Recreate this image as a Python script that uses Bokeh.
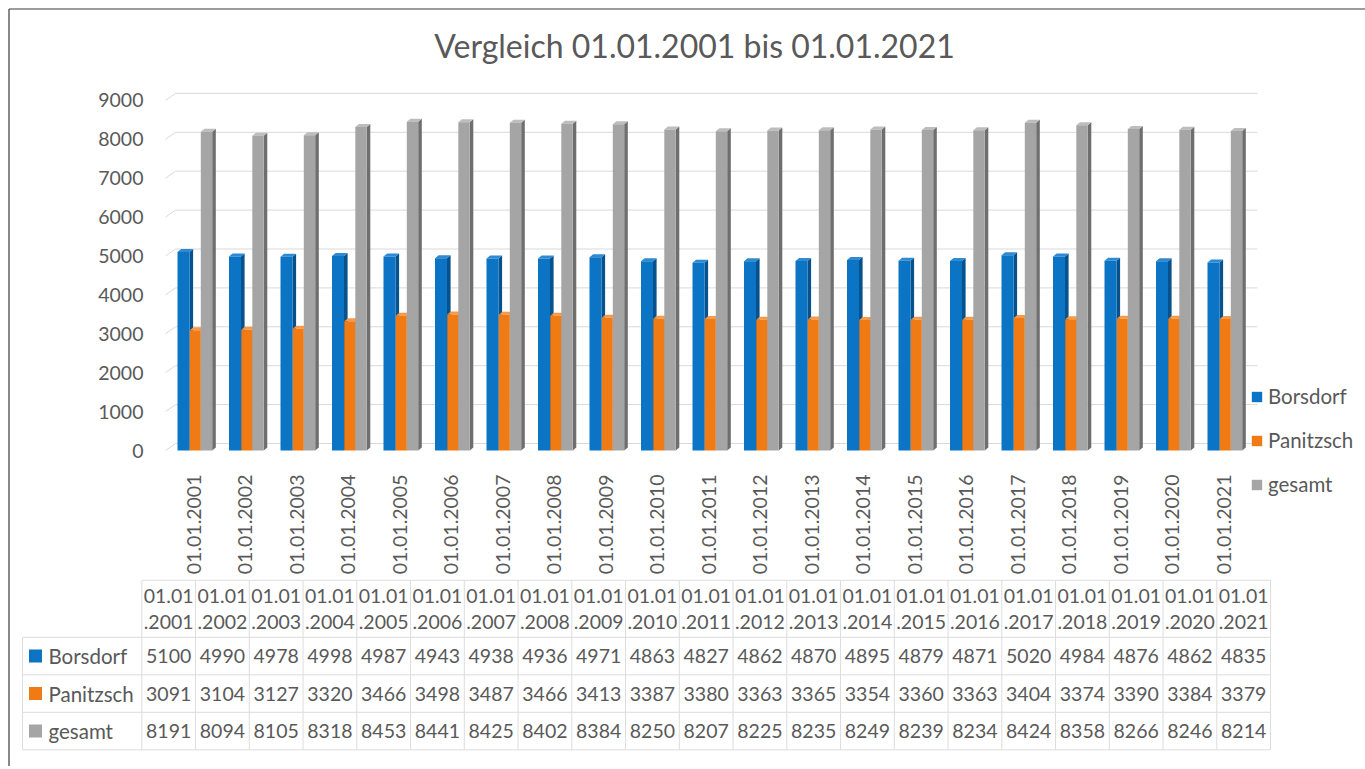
import math
from bokeh.plotting import figure
from bokeh.models import (Range1d, LinearAxis, FixedTicker, Legend, LegendItem,
                          ColumnDataSource)
from bokeh.embed import file_html
from bokeh.resources import INLINE
from bokeh.core.properties import value

# ---------------- data ----------------
DATES = ["01.01.2001", "01.01.2002", "01.01.2003", "01.01.2004", "01.01.2005",
         "01.01.2006", "01.01.2007", "01.01.2008", "01.01.2009", "01.01.2010",
         "01.01.2011", "01.01.2012", "01.01.2013", "01.01.2014", "01.01.2015",
         "01.01.2016", "01.01.2017", "01.01.2018", "01.01.2019", "01.01.2020",
         "01.01.2021"]
BORSDORF = [5100, 4990, 4978, 4998, 4987, 4943, 4938, 4936, 4971, 4863, 4827,
            4862, 4870, 4895, 4879, 4871, 5020, 4984, 4876, 4862, 4835]
PANITZSCH = [3091, 3104, 3127, 3320, 3466, 3498, 3487, 3466, 3413, 3387, 3380,
             3363, 3365, 3354, 3360, 3363, 3404, 3374, 3390, 3384, 3379]
GESAMT = [8191, 8094, 8105, 8318, 8453, 8441, 8425, 8402, 8384, 8250, 8207,
          8225, 8235, 8249, 8239, 8234, 8424, 8358, 8266, 8246, 8214]
SERIES = ["Borsdorf", "Panitzsch", "gesamt"]
Y_TICKS = [0, 1000, 2000, 3000, 4000, 5000, 6000, 7000, 8000, 9000]
TITLE = "Vergleich 01.01.2001 bis 01.01.2021"

# ---------------- style ----------------
FONT = "Lato"
TXT = "#595959"
FACE = ["#0B74C4", "#F07B14", "#A5A5A5"]
SIDE = ["#07518C", "#B2580B", "#6E6E6E"]
CAP = ["#2F8AD2", "#F59A4A", "#BDBDBD"]
GRID = "#D9D9D9"
TGRID = "#DDDDDD"
BORDER = "#3A3A3A"

# ---------------- layout geometry (page pixels) ----------------
W, H = 1365, 766
F_L, F_TOP = 0, 0
F_R, F_BOT = F_L + W, F_TOP + H
EDGE = 8.5                # outer chart-area border (left / top)

# chart: category i at page x = CX0 + i*PX ; value v at page y = BASE - v*PPU
CX0, PX = 193.3, 51.5
BASE, PPU = 450.0, 0.0389

def cxu(px):   # px distance -> category units
    return px / PX

def vu(px):    # px distance -> value units
    return px / PPU

# table: column k starts at page x TX0 + k*TW ; row r boundary at page y TB - r*RH
TX0, TW = 141.3, 53.75
TB, RH = 749.3, 37.5
LBL_LEFT = 22.0
HDR_ROWS = 1.52

p = figure(width=W, height=H,
           x_range=Range1d((F_L - CX0) / PX, (F_R - CX0) / PX),
           y_range=Range1d((BASE - F_BOT) / PPU, (BASE - F_TOP) / PPU),
           x_axis_type=None, y_axis_type=None,
           toolbar_location=None, output_backend="svg", min_border=0)
p.extra_x_ranges = {"tx": Range1d((F_L - TX0) / TW, (F_R - TX0) / TW)}
p.extra_y_ranges = {"ty": Range1d((TB - F_BOT) / RH, (TB - F_TOP) / RH)}
p.outline_line_color = None
p.background_fill_color = "white"
p.border_fill_color = "white"

# ---- outer border of the chart area (left and top edges) ----
bx = cxu(EDGE - CX0)
by = vu(BASE - EDGE)
p.segment(x0=[bx, bx], y0=[by, by], x1=[bx, cxu(F_R - CX0)], y1=[vu(BASE - F_BOT), by],
          line_color=BORDER, line_width=1.2)

# ---- title ----
p.text(x=[cxu(694 - CX0)], y=[vu(BASE - 45)], text=[TITLE],
       text_font=value(FONT), text_font_size="32px", text_color=TXT,
       text_align="center", text_baseline="middle")

# ---- gridlines (back wall, with a small slant at the corner) ----
DEPTH = vu(7.0)
gx0, gx1, gx2 = cxu(165 - CX0), cxu(175 - CX0), cxu(1257 - CX0)
nt = len(Y_TICKS)
p.segment(x0=[gx0] * nt, y0=Y_TICKS, x1=[gx1] * nt, y1=[v + DEPTH for v in Y_TICKS],
          line_color=GRID, line_width=1)
p.segment(x0=[gx1] * nt, y0=[v + DEPTH for v in Y_TICKS],
          x1=[gx2] * nt, y1=[v + DEPTH for v in Y_TICKS],
          line_color=GRID, line_width=1)

# ---- 3D-looking clustered bars ----
SW = cxu(3.6)
RISE = vu(3.0)
BARS = [(-16.3, -4.3), (-4.0, 7.0), (7.0, 18.4)]   # px offsets from label centre
idx = list(range(len(DATES)))
face_renderers = []
for k, vals in enumerate([BORSDORF, PANITZSCH, GESAMT]):
    l, r = cxu(BARS[k][0]), cxu(BARS[k][1])
    side_xs = [[i + r, i + r + SW, i + r + SW, i + r] for i in idx]
    side_ys = [[0, RISE, v + RISE, v] for v in vals]
    cap_xs = [[i + l, i + l + SW, i + r + SW, i + r] for i in idx]
    cap_ys = [[v, v + RISE, v + RISE, v] for v in vals]
    p.patches(side_xs, side_ys, fill_color=SIDE[k], line_color=None)
    p.patches(cap_xs, cap_ys, fill_color=CAP[k], line_color=None)
    src = ColumnDataSource(dict(x=[i + (l + r) / 2 for i in idx], top=vals))
    fr = p.vbar(x="x", top="top", bottom=0, width=r - l, source=src,
                fill_color=FACE[k], line_color=None)
    face_renderers.append(fr)

# ---- axes drawn inside the frame at fixed locations ----
yaxis = LinearAxis(ticker=FixedTicker(ticks=Y_TICKS), fixed_location=cxu(163 - CX0))
yaxis.axis_line_color = None
yaxis.major_tick_line_color = None
yaxis.minor_tick_line_color = None
yaxis.major_label_standoff = 14
yaxis.major_label_text_font = FONT
yaxis.major_label_text_font_size = "19.5px"
yaxis.major_label_text_color = TXT
p.add_layout(yaxis, "left")

xaxis = LinearAxis(ticker=FixedTicker(ticks=idx), fixed_location=-vu(4.0))
xaxis.major_label_overrides = {i: d for i, d in enumerate(DATES)}
xaxis.major_label_orientation = math.pi / 2
xaxis.axis_line_color = None
xaxis.major_tick_line_color = None
xaxis.minor_tick_line_color = None
xaxis.major_label_standoff = 14
xaxis.major_label_text_font = FONT
xaxis.major_label_text_font_size = "19.5px"
xaxis.major_label_text_color = TXT
p.add_layout(xaxis, "below")

# ---- legend ----
legend = Legend(items=[LegendItem(label=s, renderers=[r]) for s, r in zip(SERIES, face_renderers)],
                location=(1250 - F_L, F_BOT - 496), orientation="vertical",
                glyph_width=13, glyph_height=13, label_height=20,
                label_standoff=5, spacing=20, padding=0, margin=0,
                label_text_font=FONT, label_text_font_size="20.5px",
                label_text_color=TXT, border_line_color=None,
                background_fill_alpha=0)
p.add_layout(legend)

# ---------------- data table ----------------
n = len(DATES)
lbl_l = (LBL_LEFT - TX0) / TW
T = dict(x_range_name="tx", y_range_name="ty")
p.segment(x0=[0], y0=[HDR_ROWS + 3], x1=[n], y1=[HDR_ROWS + 3], line_color=TGRID, **T)
p.segment(x0=[lbl_l] * 4, y0=[0, 1, 2, 3], x1=[n] * 4, y1=[0, 1, 2, 3],
          line_color=TGRID, **T)
p.segment(x0=[lbl_l], y0=[0], x1=[lbl_l], y1=[3], line_color=TGRID, **T)
p.segment(x0=list(range(n + 1)), y0=[0] * (n + 1), x1=list(range(n + 1)),
          y1=[HDR_ROWS + 3] * (n + 1), line_color=TGRID, **T)

cols = [i + 0.5 for i in range(n)]
hdr_mid = 3 + HDR_ROWS / 2
p.text(x=cols, y=[hdr_mid + 0.35] * n, text=[d[:5] for d in DATES],
       text_font=value(FONT), text_font_size="19.5px", text_color=TXT,
       text_align="center", text_baseline="middle", **T)
p.text(x=cols, y=[hdr_mid - 0.35] * n, text=[d[5:] for d in DATES],
       text_font=value(FONT), text_font_size="19.5px", text_color=TXT,
       text_align="center", text_baseline="middle", **T)
for k, vals in enumerate([BORSDORF, PANITZSCH, GESAMT]):
    row_y = 2.5 - k
    p.text(x=cols, y=[row_y] * n, text=[str(v) for v in vals],
           text_font=value(FONT), text_font_size="19.5px", text_color=TXT,
           text_align="center", text_baseline="middle", **T)
    p.scatter(x=[lbl_l + 13.0 / TW], y=[row_y], marker="square", size=13,
              fill_color=FACE[k], line_color=None, **T)
    p.text(x=[lbl_l + 26.0 / TW], y=[row_y], text=[SERIES[k]],
           text_font=value(FONT), text_font_size="20.5px", text_color=TXT,
           text_align="left", text_baseline="middle", **T)

open("out.html", "w").write(file_html(p, INLINE))
